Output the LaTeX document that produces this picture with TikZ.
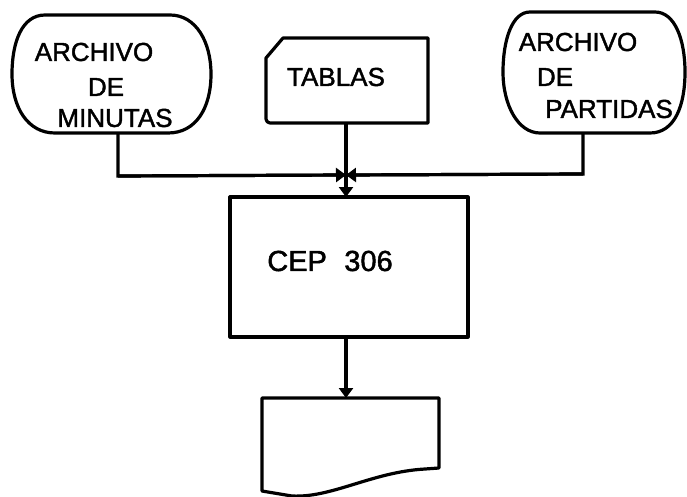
\documentclass[tikz,border=0pt]{standalone}
\usepackage{fontspec}
\setmainfont{Liberation Sans}
\newfontfamily\plotfont{Liberation Sans}[FakeBold=1.6]
\usetikzlibrary{arrows.meta}
\tikzset{
  shapeline/.style={draw=black, line width=3.2pt, line join=round, line cap=round},
  conn/.style={draw=black, line width=3.2pt},
  lbl/.style={inner sep=0pt, font=\plotfont\fontsize{26}{28}\selectfont},
  tip/.style={-{Triangle[length=10pt,width=14pt]}},
}
\begin{document}
\begin{tikzpicture}[x=1pt,y=-1pt]
\useasboundingbox (0,0) rectangle (687,497);
% left storage
\path[shapeline] (45,15) -- (170,15) .. controls (196,15) and (211,42) .. (211,74) .. controls (211,108) and (196,133) .. (168,133) -- (55,133) .. controls (28,133) and (12,108) .. (12,74) .. controls (12,42) and (22,15) .. cycle;
\node[lbl] (a1) at (94,52) {ARCHIVO};
\node[lbl] (a2) at (106,87) {DE};
\node[lbl] (a3) at (115,118) {MINUTAS};
\coordinate (lstem) at (118,133);
% right storage
\path[shapeline] (530,12) -- (655,12) .. controls (675,12) and (685,40) .. (685,72) .. controls (685,105) and (675,133) .. (650,133) -- (540,133) .. controls (518,133) and (503,105) .. (503,72) .. controls (503,40) and (512,12) .. cycle;
\node[lbl] (b1) at (578,42) {ARCHIVO};
\node[lbl] (b2) at (555,77) {DE};
\node[lbl] (b3) at (609,109) {PARTIDAS};
\coordinate (rstem) at (583,133);
% tablas (card)
\path[shapeline] (283,38) -- (428,38) -- (428,123) -- (270,123) [rounded corners=4pt] -- (266,123) [sharp corners] -- (266,58) -- cycle;
\node[lbl] (t) at (336,77) {TABLAS};
\coordinate (tstem) at (346,123);
% junction
\coordinate (j) at (346,175);
\coordinate (lc) at (118,176);
\coordinate (rc) at (583,174);
\draw[conn] (lstem) -- (lc) -- (j);
\draw[conn] (rstem) -- (rc) -- (j);
\draw[conn, tip] (lc) -- (j);
\draw[conn, tip] (rc) -- (j);
% process
\path[shapeline] (230,197) rectangle (468,337);
\coordinate (ptop) at (346,197);
\coordinate (pbot) at (346,337);
\node[inner sep=0pt, font=\plotfont\fontsize{29}{30}\selectfont] (p) at (330,261) {CEP\hspace{0.6em}306};
\draw[conn, tip] (tstem) -- (ptop);
% document
\path[shapeline] (262,398) -- (439,398) -- (439,468) -- (425,469) .. controls (372,472) and (332,498) .. (292,496) -- (262,491) -- cycle;
\coordinate (dtop) at (346,398);
\draw[conn, tip] (pbot) -- (dtop);
\end{tikzpicture}
\end{document}
